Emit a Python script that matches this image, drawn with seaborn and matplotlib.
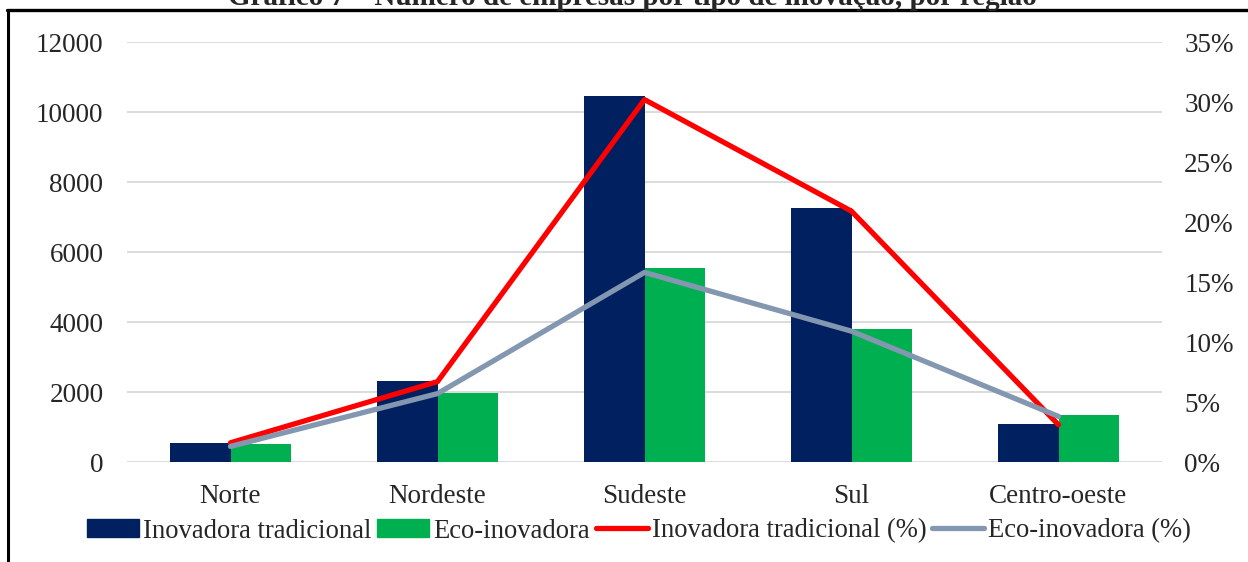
import numpy as np
import pandas as pd
import matplotlib
matplotlib.use("Agg")
import matplotlib.pyplot as plt
from matplotlib.lines import Line2D
from matplotlib.ticker import FuncFormatter
import seaborn as sns

regions = ["Norte", "Nordeste", "Sudeste", "Sul", "Centro-oeste"]
trad = [540, 2310, 10450, 7250, 1100]
eco = [510, 1980, 5530, 3800, 1350]
trad_pct = [1.6, 6.7, 30.2, 20.9, 3.1]
eco_pct = [1.3, 5.7, 15.8, 10.9, 3.8]
series_bar = ["Inovadora tradicional", "Eco-inovadora"]
series_line = ["Inovadora tradicional (%)", "Eco-inovadora (%)"]
title = "Gráfico 7 – Número de empresas por tipo de inovação, por região"

navy, green, red, gray = "#002060", "#00B050", "#FF0000", "#8497B0"

sns.set_style("white")
plt.rcParams["font.family"] = ["Liberation Serif", "DejaVu Serif"]

df_bar = pd.DataFrame({
    "region": regions * 2,
    "value": trad + eco,
    "series": [series_bar[0]] * 5 + [series_bar[1]] * 5,
})
df_line = pd.DataFrame({
    "region": regions * 2,
    "pct": trad_pct + eco_pct,
    "series": [series_line[0]] * 5 + [series_line[1]] * 5,
})

W, H = 1248, 562
fig = plt.figure(figsize=(W / 100, H / 100), dpi=100)
ax = fig.add_axes([127 / W, 1 - 462 / H, (1162 - 127) / W, (462 - 42) / H])
ax2 = ax.twinx()

sns.barplot(data=df_bar, x="region", y="value", hue="series",
            palette=[navy, green], width=0.58, linewidth=0, ax=ax,
            errorbar=None, saturation=1)
sns.pointplot(data=df_line, x="region", y="pct", hue="series",
              palette=[red, gray], markers=["", ""], linestyles=["-", "-"],
              ax=ax2, errorbar=None, linewidth=3.8)

fs = 19.5
ax.set_ylim(0, 12000)
ax.set_yticks(np.arange(0, 12001, 2000))
ax2.set_ylim(0, 35)
ax2.set_yticks(np.arange(0, 36, 5))
ax2.yaxis.set_major_formatter(FuncFormatter(lambda v, p: f"{int(v)}%"))
ax.set_xlim(-0.5, 4.5)

ax.grid(axis="y", color="#D9D9D9", linewidth=1.3)
ax.set_axisbelow(True)
for a in (ax, ax2):
    for s in a.spines.values():
        s.set_visible(False)
    a.set_xlabel("")
    a.set_ylabel("")
ax.tick_params(axis="y", length=0, pad=17, labelsize=fs)
ax.tick_params(axis="x", length=0, pad=16, labelsize=fs)
ax2.tick_params(axis="y", length=0, pad=16, labelsize=fs)
ax2.tick_params(axis="x", length=0)

for a in (ax, ax2):
    if a.get_legend() is not None:
        a.get_legend().remove()
lh = [
    plt.Rectangle((0, 0), 1, 1, color=navy),
    plt.Rectangle((0, 0), 1, 1, color=green),
    Line2D([], [], color=red, linewidth=3.8),
    Line2D([], [], color=gray, linewidth=3.8),
]
fig.legend(lh, series_bar + series_line, loc="center",
           bbox_to_anchor=(639 / W, 1 - 531 / H), ncol=4, frameon=False,
           fontsize=19.2, handlelength=1.95, handletextpad=0.15,
           columnspacing=0.22, handleheight=0.65)

# frame lines
fig.add_artist(Line2D([7 / W, 1.0], [1 - 10 / H, 1 - 10 / H], color="black",
                      linewidth=2.4, transform=fig.transFigure))
fig.add_artist(Line2D([8 / W, 8 / W], [1 - 10 / H, 0], color="black",
                      linewidth=2.2, transform=fig.transFigure))
# title (cut off at top, as in the source image)
fig.text(632 / W, 1 - 5 / H, title, ha="center", va="baseline",
         fontsize=21, fontweight="bold")

fig.savefig("out.png", dpi=100)
